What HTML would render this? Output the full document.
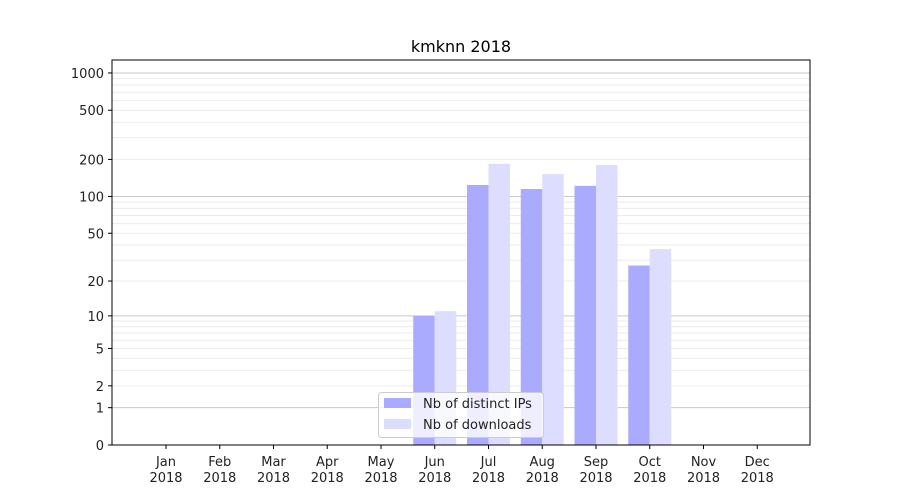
<!DOCTYPE html>
<html><head><meta charset="utf-8">
<style>html,body{margin:0;padding:0;background:#fff;}svg{display:block;font-family:"DejaVu Sans","Liberation Sans",sans-serif;}</style>
</head><body>
<svg id="s" width="900" height="500" xmlns="http://www.w3.org/2000/svg">
<rect width="900" height="500" fill="#fff"/>
<g id="grid"></g>
<g id="bars"></g>
<rect x="112" y="60" width="698" height="385" fill="none" stroke="#000" stroke-width="1"/>
<g id="ticks" font-size="13" fill="#222"></g>
<text x="461" y="52" font-size="16" text-anchor="middle" fill="#000">kmknn 2018</text>
<g>
<rect x="378.5" y="392.5" width="165" height="45" rx="3" fill="#fff" fill-opacity="0.8" stroke="#ccc"/>
<rect x="384" y="398" width="27" height="10" fill="#aaaaff"/>
<text x="423" y="408" font-size="13" fill="#222">Nb of distinct IPs</text>
<rect x="384" y="419" width="27" height="10" fill="#ddddff"/>
<text x="423" y="429" font-size="13" fill="#222">Nb of downloads</text>
</g>
</svg>
<script>
var NS="http://www.w3.org/2000/svg";
function el(p,t,a,txt){var e=document.createElementNS(NS,t);for(var k in a)e.setAttribute(k,a[k]);if(txt!=null)e.textContent=txt;document.getElementById(p).appendChild(e);return e;}
function Y(v){return 445-124*Math.log10(1+v);}
[1,10,100,1000].forEach(function(d){for(var m=2;m<=9;m++){var v=m*d;var y=Y(v);if(y<60)continue;el("grid","line",{x1:112,x2:810,y1:y,y2:y,stroke:"#ebebeb","stroke-width":1});}});
[1,10,100,1000].forEach(function(v){var y=Y(v);el("grid","line",{x1:112,x2:810,y1:y,y2:y,stroke:"#c8c8c8","stroke-width":1});});
[0,1,2,5,10,20,50,100,200,500,1000].forEach(function(v){var y=Y(v);el("ticks","line",{x1:108,x2:112,y1:y,y2:y,stroke:"#000"});el("ticks","text",{x:104,y:y+5,"text-anchor":"end"},String(v));});
var mon=["Jan","Feb","Mar","Apr","May","Jun","Jul","Aug","Sep","Oct","Nov","Dec"];
var c0=166,step=53.75;
mon.forEach(function(m,i){var x=c0+i*step;el("ticks","line",{x1:x,x2:x,y1:445,y2:449,stroke:"#000"});el("ticks","text",{x:x,y:466,"text-anchor":"middle"},m);el("ticks","text",{x:x,y:482,"text-anchor":"middle"},"2018");});
var a={5:[10,11],6:[124,184],7:[115,152],8:[122,180],9:[27,37]};
for(var i in a){var x=c0+i*step;var b=a[i];
el("bars","rect",{x:x-21.5,y:Y(b[0]),width:21.5,height:445-Y(b[0]),fill:"#aaaaff"});
el("bars","rect",{x:x,y:Y(b[1]),width:21.5,height:445-Y(b[1]),fill:"#ddddff"});}
</script>
</body></html>
